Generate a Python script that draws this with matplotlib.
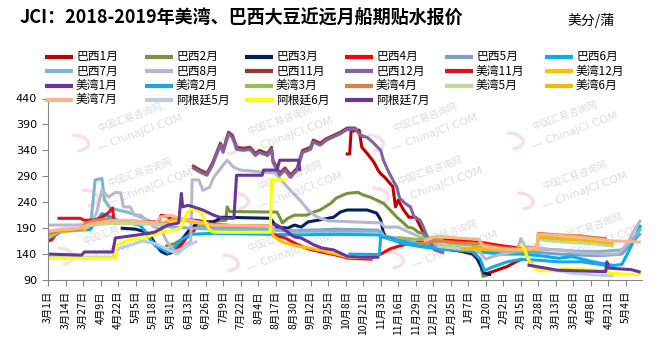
import matplotlib
matplotlib.use('Agg')
import matplotlib.pyplot as plt
import numpy as np
import pandas as pd
from matplotlib.lines import Line2D
from matplotlib.patches import Arc

plt.rcParams['font.family'] = ['Noto Sans CJK SC', 'DejaVu Sans']

# ---------------- data (date 'YY-MM-DD', value; None = gap) ----------------
br1_d = ['18-10-08','18-10-11','18-10-12','18-10-18','18-10-20','18-10-24','18-10-29','18-11-01','18-11-03',
         '18-11-06','18-11-09','18-11-12','18-11-14','18-11-16','18-11-20','18-11-24','18-11-29','18-12-03',
         '18-12-07','18-12-10','18-12-20','19-01-01','19-01-10','19-01-16','19-01-18','19-01-25','19-02-05',
         '19-02-12','19-02-16']
br1_v = [333,333,377,379,346,334,317,302,295,288,279,270,231,244,225,211,211,190,171,161,150,146,140,125,100,106,116,126,130]

br2_d = ['18-05-27','18-06-03','18-06-08','18-06-14','18-06-22','18-07-01','18-07-11','18-07-12','18-07-14',
         '18-08-18','18-08-20','18-08-22','18-08-26','18-08-31','18-09-09','18-09-14','18-09-19','18-09-27',
         '18-10-01','18-10-09','18-10-17','18-10-21','18-10-26','18-10-31','18-11-05','18-11-10','18-11-15',
         '18-11-20','18-11-23','18-11-27','18-12-01','18-12-04','18-12-08','18-12-15','18-12-25','19-01-05',
         '19-01-12','19-01-16','19-01-18','19-01-22']
br2_v = [155,160,168,175,200,203,205,231,222,221,211,200,209,215,215,221,225,238,248,257,259,254,250,244,
         238,225,211,200,192,190,182,180,167,158,152,148,142,125,97,100]

br3_d = ['18-04-24','18-05-05','18-05-12','18-05-16','18-05-20','18-05-24','18-05-28','18-06-01','18-06-05',
         '18-06-09','18-06-15','18-06-22','18-07-02','18-07-08','18-08-13','18-08-18','18-08-26','18-08-31',
         '18-09-05','18-09-10','18-09-19','18-09-29','18-10-04','18-10-09','18-10-24','18-10-31','18-11-03',
         '18-11-05','18-11-07','18-11-20','18-12-01','18-12-15','19-01-01','19-01-12','19-01-16','19-01-19',
         '19-01-24']
br3_v = [190,188,183,175,158,145,140,143,150,170,190,202,202,211,209,192,190,196,192,202,206,211,221,225,
         225,219,206,181,173,165,160,152,146,140,118,103,100]

br4_d = ['18-03-01','18-03-04','18-03-08','18-03-14','18-03-20','18-04-01',
         '18-05-30','18-06-03','18-06-06','18-06-10','18-06-14','18-06-18','18-07-01',
         '18-10-28','18-11-03','18-11-10','18-11-16','18-11-25','18-12-10','18-12-20','19-01-01','19-01-10',
         '19-01-20','19-02-01','19-02-10','19-02-18']
br4_v = [165,168,182,186,187,None,
         150,148,152,165,180,188,None,
         133,140,150,155,161,165,167,166,164,161,156,153,150]

br5_d = ['18-06-20','18-07-01','18-08-13','18-08-20','18-09-01','18-10-01','18-11-01','18-11-05','18-11-20',
         '18-12-01','18-12-15','19-01-01','19-01-15','19-02-01','19-02-15','19-03-01','19-03-15','19-04-01',
         '19-04-15','19-05-01','19-05-08','19-05-15']
br5_v = [195,192,190,186,185,188,186,175,168,160,155,150,148,145,145,143,140,138,137,140,160,180]

br6_d = ['18-03-01','18-03-06','18-03-12','18-04-01','18-04-05','18-04-10','18-04-16','18-04-22','18-05-01',
         '18-05-08','18-05-12','18-05-16','18-05-20','18-05-25','18-05-29','18-06-02','18-06-08','18-06-15',
         '18-07-01','18-08-15','18-09-01','18-10-01','18-11-01','18-11-08','18-11-20','18-12-01','18-12-15',
         '19-01-01','19-01-15','19-02-01','19-02-15','19-03-01','19-03-15','19-03-25','19-04-10','19-04-25',
         '19-05-01','19-05-07','19-05-15']
br6_v = [170,176,185,187,200,218,212,205,200,196,185,168,155,150,143,150,168,178,180,178,177,178,177,170,
         160,155,150,148,144,140,140,137,132,135,125,118,120,150,196]

br7_d = ['18-03-01','18-03-15','18-03-30','18-04-02','18-04-05','18-04-10','18-04-12','18-04-16','18-04-22',
         '18-04-30','18-05-06','18-05-12','18-05-18','18-05-25','18-06-01','18-06-15','18-07-01','18-08-15',
         '18-09-01','18-10-01','18-11-03','18-11-06','18-11-20','18-12-01','18-12-15','19-01-01','19-01-15',
         '19-02-01','19-02-15','19-03-01','19-03-15','19-04-01','19-04-15','19-05-01','19-05-08','19-05-15']
br7_v = [180,185,190,205,283,286,244,229,225,220,215,208,200,195,192,190,188,186,184,184,184,172,165,160,
         155,152,150,148,150,150,148,145,145,148,165,188]

br8_d = ['18-03-01','18-03-20','18-04-01','18-04-06','18-04-10','18-04-15','18-04-20','18-04-24','18-04-26',
         '18-05-01','18-05-04','18-05-09','18-05-12','18-05-19','18-05-24','18-05-28','18-06-03','18-06-08',
         '18-06-12','18-06-15','18-06-16','18-06-21','18-06-24','18-06-29','18-07-02','18-07-08','18-07-12',
         '18-07-17','18-07-22','18-08-08','18-08-17','18-08-21','18-08-28','18-09-04','18-09-10','18-09-17',
         '18-09-25','18-11-03','18-11-06','18-11-16','18-11-25','18-12-05','18-12-15','19-01-01','19-01-15',
         '19-01-20','19-01-25','19-02-01','19-02-12','19-02-15','19-02-18','19-03-01','19-03-15','19-04-01',
         '19-04-15','19-04-28','19-05-05','19-05-10','19-05-15']
br8_v = [196,196,197,219,263,250,259,258,231,231,215,215,206,192,188,165,145,150,160,165,283,283,263,269,
         288,308,321,307,302,298,296,283,263,244,225,211,204,200,192,192,181,170,160,150,145,130,135,140,
         145,170,155,150,148,142,140,140,160,185,206]

br11_d = ['18-06-16','18-06-22','18-06-27','18-07-01','18-07-07','18-07-09','18-07-13','18-07-16','18-07-19',
          '18-07-24','18-07-29','18-08-02','18-08-05','18-08-11','18-08-14','18-08-15','18-08-20','18-08-24',
          '18-08-28','18-09-02','18-09-06','18-09-12','18-09-14','18-09-19','18-09-24','18-09-29','18-10-04',
          '18-10-09','18-10-15','18-10-19','18-10-22']
br11_v = [311,302,296,315,354,340,375,369,346,344,346,334,340,334,346,321,296,306,292,306,340,346,360,354,
          363,369,375,383,383,369,366]

br12_d = ['18-06-16','18-06-22','18-06-27','18-07-01','18-07-07','18-07-09','18-07-13','18-07-16','18-07-19',
          '18-07-24','18-07-29','18-08-02','18-08-05','18-08-11','18-08-14','18-08-15','18-08-20','18-08-24',
          '18-08-28','18-09-02','18-09-06','18-09-12','18-09-14','18-09-19','18-09-24','18-09-29','18-10-04',
          '18-10-09','18-10-15','18-10-19','18-10-24','18-10-28','18-11-03','18-11-05','18-11-09','18-11-12',
          '18-11-15','18-11-17','18-11-21','18-11-25','18-11-28','18-12-02','18-12-04','18-12-07','18-12-10',
          '18-12-13','18-12-20']
br12_v = [307,298,292,311,350,336,371,365,342,340,342,330,336,330,342,317,292,302,288,302,336,342,356,350,
          360,366,372,380,381,369,365,356,340,321,298,283,269,248,238,231,211,206,196,177,161,148,142]

us11_d = ['18-03-08','18-03-25','18-03-28','18-04-05','18-04-10','18-04-15','18-04-18','18-04-19','18-05-01',
          '18-05-22','18-05-24','18-05-28','18-06-01','18-06-20','18-07-01','18-07-15','18-08-14','18-08-15',
          '18-08-24','18-09-01','18-09-10','18-09-20','18-10-01','18-10-10','18-10-28']
us11_v = [209,209,205,206,211,220,229,200,202,202,215,213,207,205,198,195,194,177,171,160,150,144,138,132,130]

us12_d = ['18-03-01','18-03-08','18-03-20','18-03-28','18-04-01','18-04-10','18-04-25','18-05-10','18-05-25',
          '18-06-01','18-06-10','18-06-20','18-07-01','18-08-14','18-08-15','18-08-22','18-09-01','18-09-10',
          '18-09-20','18-10-01','18-10-10','18-10-28']
us12_v = [172,182,185,187,196,200,200,198,200,206,205,200,196,193,175,163,156,152,147,140,134,133]

us1_d = ['18-08-12','18-08-18','18-08-24','18-08-31','18-09-05','18-09-15','18-09-20','18-09-29','18-10-04',
         '18-10-09','18-10-20','18-11-02']
us1_v = [198,196,186,173,171,157,152,148,142,136,134,134]

us2_d = ['18-10-10','18-11-02','18-11-03','18-11-10','18-11-20','18-11-25','18-12-05','18-12-15','19-01-01',
         '19-01-10','19-01-16','19-01-19','19-01-25','19-02-05','19-02-15','19-03-01','19-03-15','19-04-01',
         '19-04-15','19-04-25']
us2_v = [140,139,173,171,165,160,157,150,147,145,130,108,115,125,130,128,125,125,120,115]

us3_d = ['18-11-15','18-12-01','18-12-12','18-12-25','19-01-08','19-01-20','19-02-01','19-02-15','19-02-27',
         '19-02-28','19-03-10','19-03-20']
us3_v = [172,168,172,160,158,150,147,145,150,175,172,168]

us4_d = ['18-03-01','18-03-10','18-03-20','18-03-26','18-03-29','18-04-05','18-04-15','18-04-20','18-05-01',
         '18-05-15','18-05-31','18-06-15',
         '18-12-01','18-12-15','19-01-01','19-01-15','19-02-01','19-02-15','19-02-27','19-02-28','19-03-10',
         '19-03-20','19-04-01','19-04-10','19-04-20']
us4_v = [178,185,186,188,200,205,208,200,202,200,198,None,
         160,165,162,160,152,150,152,180,178,176,175,172,170]

us5_d = ['18-03-01','18-03-20','18-04-01','18-04-20','18-05-15','18-06-01','18-09-01',
         '18-12-15','19-01-01','19-02-01','19-02-27','19-02-28','19-03-10','19-03-25','19-04-10','19-04-25']
us5_v = [185,188,195,200,198,197,None,
         155,150,148,150,168,165,162,160,155]

us6_d = ['19-01-01','19-02-15','19-02-27','19-02-28','19-03-10','19-03-25','19-04-10','19-04-25']
us6_v = [150,148,150,172,170,168,165,160]

us7_d = ['18-03-01','18-03-10','18-03-25','18-04-01','18-04-18','18-05-01','18-05-20','18-05-24','18-06-01',
         '18-06-05','18-06-15','18-06-25','18-07-01','18-08-14','18-08-16','18-10-01',
         '18-12-05','18-12-15','18-12-25','19-01-05','19-01-15','19-01-18','19-02-01','19-02-15','19-02-27',
         '19-02-28','19-03-15','19-04-01','19-04-15','19-04-25','19-05-01','19-05-15']
us7_v = [183,188,190,198,205,205,200,212,215,210,205,200,196,194,180,None,
         165,175,172,170,168,155,150,148,152,178,176,172,168,165,165,163]

ar5_d = ['18-03-01','18-04-18','18-04-22','18-05-10','18-05-20','18-05-28','18-06-05','18-06-12','18-06-20',
         '18-12-01',
         '19-02-18','19-02-25','19-03-10','19-03-25','19-04-10','19-04-25']
ar5_v = [134,134,150,165,160,150,140,155,165,None,
         140,115,110,103,100,98]

ar6_d = ['18-03-01','18-04-20','18-04-21','18-04-29','18-05-12','18-05-23','18-06-03','18-06-08','18-06-12',
         '18-06-16','18-06-23','18-06-25','18-06-29','18-07-02','18-08-13','18-08-14','18-08-25','18-12-01',
         '19-02-15','19-02-18','19-02-22','19-02-28','19-03-14','19-03-20','19-04-20','19-04-22','19-05-15']
ar6_v = [132,132,158,167,171,182,186,192,219,229,219,206,186,182,182,283,283,None,
         160,148,120,108,108,112,108,103,100]

ar7_d = ['18-03-01','18-03-26','18-03-28','18-04-18','18-04-20','18-05-07','18-05-19','18-05-29','18-06-06',
         '18-06-08','18-06-09','18-06-13','18-06-17','18-06-24','18-07-02','18-07-09','18-07-17','18-07-19',
         '18-08-07','18-08-08','18-08-18','18-08-20','18-09-03','18-09-04','18-12-01',
         '19-02-20','19-03-14','19-04-19','19-04-20','19-04-21','19-05-08','19-05-15']
ar7_v = [140,138,144,144,171,177,182,196,200,257,231,234,231,225,215,209,209,292,292,302,302,321,321,300,None,
         119,109,106,125,113,110,105]

names = ['巴西1月','巴西2月','巴西3月','巴西4月','巴西5月','巴西6月',
         '巴西7月','巴西8月','巴西11月','巴西12月','美湾11月','美湾12月',
         '美湾1月','美湾2月','美湾3月','美湾4月','美湾5月','美湾6月',
         '美湾7月','阿根廷5月','阿根廷6月','阿根廷7月']
colors = ['#C00000','#77933C','#002060','#FF0000','#7F9FC8','#00B0F0',
          '#7EB6CF','#B8B7D0','#953735','#8064A2','#E3101B','#FFC000',
          '#7030A0','#1CA6E0','#9BBB59','#E0803C','#C3D69B','#F5B800',
          '#FAB58A','#B9CDE5','#FFFF00','#6A3599']
all_d = [br1_d, br2_d, br3_d, br4_d, br5_d, br6_d, br7_d, br8_d, br11_d, br12_d, us11_d, us12_d,
         us1_d, us2_d, us3_d, us4_d, us5_d, us6_d, us7_d, ar5_d, ar6_d, ar7_d]
all_v = [br1_v, br2_v, br3_v, br4_v, br5_v, br6_v, br7_v, br8_v, br11_v, br12_v, us11_v, us12_v,
         us1_v, us2_v, us3_v, us4_v, us5_v, us6_v, us7_v, ar5_v, ar6_v, ar7_v]

yticks = [90, 140, 190, 240, 290, 340, 390, 440]

# ---------------- figure ----------------
W, H = 671, 351
fig = plt.figure(figsize=(W / 100, H / 100), dpi=100)
fig.patch.set_facecolor('white')
ax = fig.add_axes([48 / W, 1 - 280 / H, (642 - 48) / W, (280 - 98.5) / H])

# watermarks
wm = [(130, 125), (280, 128), (425, 125), (565, 123),
      (140, 180), (290, 183), (430, 178), (575, 183),
      (115, 238), (280, 245), (445, 242), (590, 235)]
for cx, cy in wm:
    ax.text(cx / W, 1 - (cy - 7) / H, '中国汇易咨询网', transform=fig.transFigure, rotation=20,
            fontsize=7, color='#dcdcdc', ha='center', va='center', zorder=0.5)
    ax.text((cx + 10) / W, 1 - (cy + 8) / H, '— ChinaJCI.COM', transform=fig.transFigure, rotation=20,
            fontsize=8, color='#dcdcdc', ha='center', va='center', zorder=0.5, family='DejaVu Sans')
    ax.add_patch(Arc(((cx - 55) / W, 1 - (cy + 18) / H), 26 / W, 16 / H, angle=20, theta1=-100, theta2=80,
                     transform=fig.transFigure, color='#f9e0e0', lw=2.5, zorder=0.5))

for name, col, dd, vv in zip(names, colors, all_d, all_v):
    x = pd.to_datetime(['20' + s for s in dd])
    y = np.array([np.nan if v is None else v for v in vv], dtype=float)
    ax.plot(x, y, color=col, lw=2.2, solid_capstyle='butt', solid_joinstyle='round', zorder=2)

ax.set_xlim(pd.Timestamp('2018-03-01'), pd.Timestamp('2019-05-16'))
ax.set_ylim(90, 440)
ax.set_yticks(yticks)
ax.set_yticklabels([str(t) for t in yticks], family='DejaVu Sans', fontsize=8)
ticks = pd.date_range('2018-03-01', '2019-05-04', freq='13D')
ax.set_xticks(ticks)
ax.set_xticklabels([f'{t.month}月{t.day}日' for t in ticks], rotation=90, fontsize=7.5)
for s in ['top', 'right']:
    ax.spines[s].set_visible(False)
for s in ['left', 'bottom']:
    ax.spines[s].set_color('#868686')
    ax.spines[s].set_linewidth(0.8)
ax.tick_params(axis='both', direction='out', length=4, color='#868686', width=0.8, pad=4)

# legend (manual, uniform columns as in the reference)
for i, (name, col) in enumerate(zip(names, colors)):
    c, r = i % 6, i // 6
    x0 = 45 + 100 * c
    yy = 1 - (56.7 + 14.4 * r) / H
    fig.add_artist(Line2D([x0 / W, (x0 + 28) / W], [yy, yy], transform=fig.transFigure,
                          color=col, lw=3, solid_capstyle='butt'))
    fig.text((x0 + 31) / W, yy, name, fontsize=8.5, va='center', ha='left')

fig.text(20 / W, 1 - 18 / H, 'JCI：2018-2019年美湾、巴西大豆近远月船期贴水报价', fontsize=13,
         fontweight='bold', va='center', ha='left')
fig.text(567 / W, 1 - 20 / H, '美分/蒲', fontsize=10, va='center', ha='left')

fig.savefig('out.png', dpi=100)
